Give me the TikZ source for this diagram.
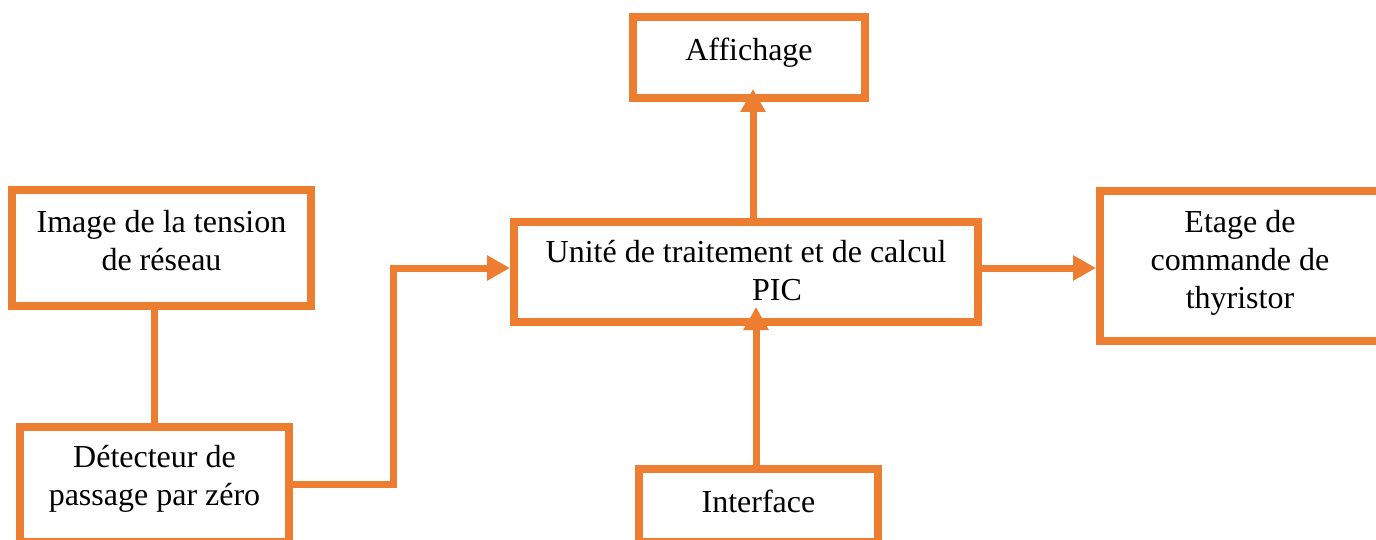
\documentclass[tikz,border=0pt]{standalone}
\usepackage{fontspec}
\setmainfont{Liberation Serif}
\usetikzlibrary{arrows.meta,calc}
\definecolor{orng}{HTML}{ED7D31}
\newcommand{\lowstrut}[1]{\rule[-#1pt]{0pt}{#1pt}}
\begin{document}
\begin{tikzpicture}[x=1pt,y=-1pt,
  box/.style={draw=orng,line width=8pt,fill=white,inner sep=0pt,align=center,
    font=\fontsize{32}{38}\selectfont},
  link/.style={draw=orng,line width=7pt},
  arr/.style={link,-{Triangle[length=23pt,width=24pt]}}]
\useasboundingbox (0,0) rectangle (1376,540);
\clip (0,0) rectangle (1376,540);
\fill[white] (0,0) rectangle (1376,540);

\node[box,minimum width=299pt,minimum height=116pt] (img) at (161.5,248)
  {Image de la tension\\de réseau\lowstrut{16}};
\node[box,minimum width=269pt,minimum height=115pt] (det) at (154.5,484.5)
  {Détecteur de\\passage par zéro\lowstrut{19}};
\node[box,minimum width=464pt,minimum height=100pt] (main) at (746,272)
  {Unité de traitement et de calcul\\\hspace*{62pt}PIC\lowstrut{3}};
\node[box,minimum width=232pt,minimum height=81pt] (aff) at (749,57.5)
  {Affichage\lowstrut{17}};
\node[box,minimum width=280pt,minimum height=150pt] (etage) at (1240,266)
  {Etage de\\commande de\\thyristor\lowstrut{13}};
\node[box,minimum width=239pt,minimum height=73pt] (iface) at (758.5,505.5)
  {Interface\lowstrut{9}};

\coordinate (bend) at (393,268);
\draw[link] (det.north) -- (det.north |- img.south);
\draw[arr] (det.east) -| (bend) -- (bend -| main.west);
\draw[arr,shorten >=-13pt] ([xshift=7pt]main.north) -- ([xshift=7pt]main.north |- aff.south);
\draw[arr,shorten >=-19pt] ([xshift=-2.5pt]iface.north) -- ([xshift=-2.5pt]iface.north |- main.south);
\draw[arr] ([yshift=4pt]main.east) -- ([yshift=4pt]main.east -| etage.west);
\end{tikzpicture}
\end{document}
